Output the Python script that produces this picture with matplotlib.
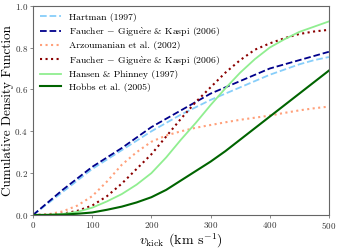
import matplotlib
matplotlib.use('Agg')
import matplotlib.pyplot as plt

plt.rcParams['font.family'] = ['cmr10', 'DejaVu Serif']
plt.rcParams['mathtext.fontset'] = 'cm'
plt.rcParams['axes.formatter.use_mathtext'] = True

# kick velocity grid (km/s) and CDF values
v = [0, 25, 50, 75, 100, 125, 150, 175, 200, 225, 250,
     275, 300, 325, 350, 375, 400, 425, 450, 475, 500]
hartman = [0, 0.055, 0.11, 0.165, 0.22, 0.265, 0.31, 0.355, 0.40, 0.44, 0.48,
           0.515, 0.55, 0.58, 0.61, 0.64, 0.67, 0.695, 0.72, 0.74, 0.755]
fgk_dashed = [0, 0.06, 0.12, 0.175, 0.23, 0.275, 0.32, 0.37, 0.42, 0.46, 0.50,
              0.54, 0.58, 0.61, 0.64, 0.67, 0.70, 0.72, 0.74, 0.76, 0.78]
arzoumanian = [0, 0.003, 0.017, 0.045, 0.09, 0.16, 0.24, 0.30, 0.35, 0.38, 0.40,
               0.417, 0.43, 0.443, 0.455, 0.465, 0.475, 0.488, 0.50, 0.51, 0.518]
fgk_dotted = [0, 0.001, 0.006, 0.02, 0.045, 0.09, 0.15, 0.22, 0.29, 0.375, 0.46,
              0.54, 0.61, 0.68, 0.74, 0.79, 0.82, 0.845, 0.865, 0.877, 0.885]
hansen = [0, 0.001, 0.005, 0.015, 0.035, 0.065, 0.10, 0.145, 0.20, 0.275, 0.36,
          0.44, 0.525, 0.605, 0.68, 0.745, 0.80, 0.84, 0.875, 0.90, 0.925]
hobbs = [0, 0.0005, 0.002, 0.006, 0.012, 0.025, 0.04, 0.06, 0.085, 0.12, 0.165,
         0.21, 0.255, 0.305, 0.36, 0.415, 0.47, 0.525, 0.58, 0.635, 0.69]

fgk = r'Faucher $-$ Gigu$\mathrm{\grave{e}}$re & Kaspi (2006)'

fig = plt.figure(figsize=(3.44, 2.5), dpi=100)
ax = fig.add_axes([0.096, 0.14, 0.86, 0.837])

ax.plot(v, hartman, color='lightskyblue', ls='--', lw=1.3, label='Hartman (1997)')
ax.plot(v, fgk_dashed, color='darkblue', ls='--', lw=1.3, label=fgk)
ax.plot(v, arzoumanian, color='lightsalmon', ls=':', lw=1.5, label='Arzoumanian et al. (2002)')
ax.plot(v, fgk_dotted, color='darkred', ls=':', lw=1.5, label=fgk)
ax.plot(v, hansen, color='lightgreen', ls='-', lw=1.3, label='Hansen & Phinney (1997)')
ax.plot(v, hobbs, color='darkgreen', ls='-', lw=1.5, label='Hobbs et al. (2005)')

ax.set_xlim(0, 500)
ax.set_ylim(0, 1)
ax.set_xticks([0, 100, 200, 300, 400, 500])
ax.set_yticks([0, 0.2, 0.4, 0.6, 0.8, 1.0])
ax.tick_params(labelsize=6.5, length=2, width=0.6, pad=1.8,
               color='#777777', labelcolor='#333333')
for s in ax.spines.values():
    s.set_color('#666666')

ax.set_xlabel(r'$v_{\rm kick}$ (km s$^{-1}$)', fontsize=10, labelpad=0)
ax.set_ylabel('Cumulative Density Function', fontsize=9.5, labelpad=0.5)
ax.legend(loc='upper left', frameon=False, fontsize=7, handlelength=2.2,
          labelspacing=0.35, borderaxespad=0.3)

fig.savefig('out.png', dpi=100)
